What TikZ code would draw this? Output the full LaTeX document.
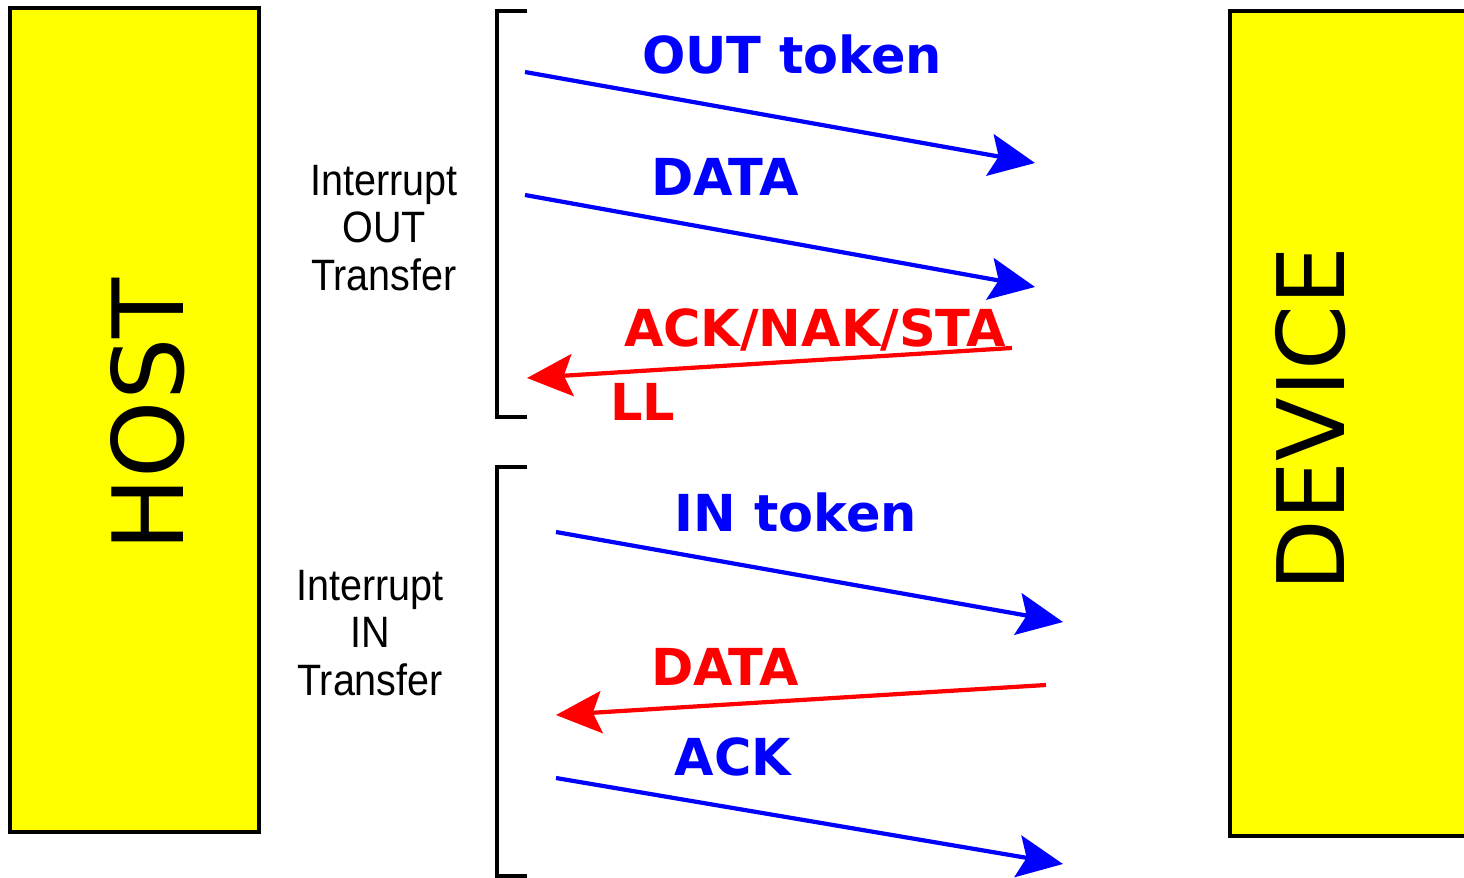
\documentclass[tikz,border=0pt]{standalone}
\usepackage{fontspec}
\setmainfont{Liberation Sans}
\newfontfamily\sidefont[FakeStretch=0.9]{Liberation Sans}
\newfontfamily\comicfont{DejaVu Sans}
\usetikzlibrary{arrows.meta}
\definecolor{boxyellow}{RGB}{255,255,0}
\definecolor{msgblue}{RGB}{0,0,255}
\definecolor{msgred}{RGB}{255,0,0}
\tikzset{
  box/.style={draw, line width=2.6pt, fill=boxyellow},
  boxlabel/.style={rotate=90, inner sep=0pt},
  msg/.style={line width=2.4pt, -{Stealth[length=26pt,width=24pt,inset=5pt]}},
  msglabel/.style={font=\comicfont\bfseries\fontsize{29}{29}\selectfont, inner sep=0pt},
  side/.style={font=\sidefont\fontsize{25}{27}\selectfont, align=center, inner sep=0pt},
  brack/.style={line width=2.2pt}
}
\begin{document}
\begin{tikzpicture}[x=0.02cm, y=-0.02cm]
  \useasboundingbox (0,0) rectangle (1464,878);
  % host and device
  \draw[box] (10,8) rectangle (259,832);
  \node[boxlabel, font=\comicfont\fontsize{56}{56}\selectfont] (host) at (148,415) {HOST};
  \fill[boxyellow] (1230,11) rectangle (1464,836);
  \draw[line width=2.4pt] (1466,11) -- (1230,11) -- (1230,836) -- (1466,836);
  \node[boxlabel, font=\comicfont\fontsize{53}{53}\selectfont] (device) at (1311,419) {DEVICE};

  % interrupt OUT transfer
  \draw[brack] (527,11) -- (497,11) -- (497,417) -- (527,417);
  \node[side] (outxfer) at (384,228) {Interrupt\\OUT\\Transfer};
  \coordinate (otok1) at (525,72);
  \coordinate (otok2) at (1035,163);
  \coordinate (odat1) at (525,195);
  \coordinate (odat2) at (1035,287);
  \coordinate (ohs1) at (1012,348);
  \coordinate (ohs2) at (527,378);
  \begin{scope}[msglabel]
    \node[msgblue] (otoklbl) at (792,55) {OUT token};
    \node[msgblue] (odatlbl) at (725,177) {DATA};
    \node[msgred] (ohslbl) at (815,330) {ACK/NAK/STA};
    \node[msgred] (ohslbl2) at (643,402) {LL};
  \end{scope}
  \draw[msg, msgblue] (otok1) -- (otok2);
  \draw[msg, msgblue] (odat1) -- (odat2);
  \draw[msg, msgred] (ohs1) -- (ohs2);

  % interrupt IN transfer
  \draw[brack] (527,467) -- (497,467) -- (497,876) -- (527,876);
  \node[side] (inxfer) at (370,633) {Interrupt\\IN\\Transfer};
  \coordinate (itok1) at (556,532);
  \coordinate (itok2) at (1063,622);
  \coordinate (idat1) at (1046,685);
  \coordinate (idat2) at (556,715);
  \coordinate (iack1) at (556,778);
  \coordinate (iack2) at (1063,864);
  \begin{scope}[msglabel]
    \node[msgblue] (itoklbl) at (796,513) {IN token};
    \node[msgred] (idatlbl) at (725,667) {DATA};
    \node[msgblue] (iacklbl) at (733,757) {ACK};
  \end{scope}
  \draw[msg, msgblue] (itok1) -- (itok2);
  \draw[msg, msgred] (idat1) -- (idat2);
  \draw[msg, msgblue] (iack1) -- (iack2);
\end{tikzpicture}
\end{document}
